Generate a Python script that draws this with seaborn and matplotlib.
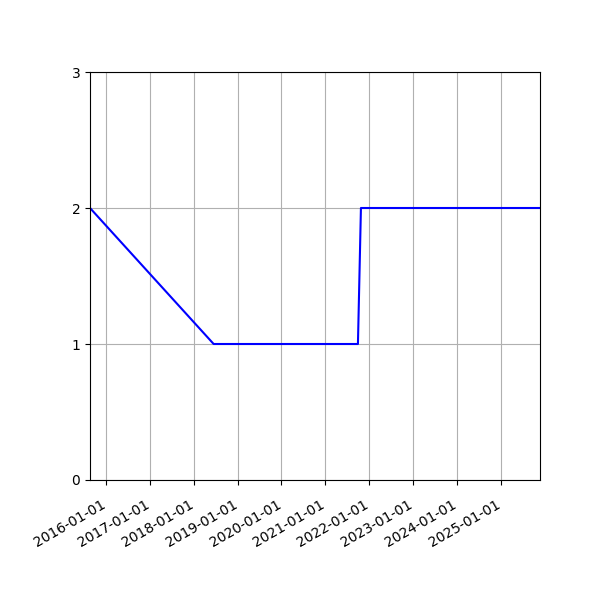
import pandas as pd
import matplotlib
matplotlib.use("Agg")
import matplotlib.pyplot as plt
import matplotlib.dates as mdates
import matplotlib.transforms as mtransforms
import seaborn as sns

# data
dates = ["2015-08-19", "2018-06-15", "2021-09-30", "2021-10-25", "2025-11-26"]
values = [2, 1, 1, 2, 2]

df = pd.DataFrame({"date": pd.to_datetime(dates), "value": values})

fig, ax = plt.subplots(figsize=(6, 6), dpi=100)
sns.lineplot(data=df, x="date", y="value", color="blue", ax=ax)

ax.set_xlim(df["date"].min(), df["date"].max())
ax.set_ylim(0, 3)
ax.set_yticks([0, 1, 2, 3])
ax.xaxis.set_major_locator(mdates.YearLocator())
ax.xaxis.set_major_formatter(mdates.DateFormatter("%Y-%m-%d"))
ax.set_xlabel("")
ax.set_ylabel("")
ax.grid(True)

fig.autofmt_xdate()
fig.subplots_adjust(left=0.15, right=0.9, top=0.88, bottom=0.2)

# the reference has its date labels sitting a little lower / to the right
fig.canvas.draw()
shift = mtransforms.ScaledTranslation(0.02, -0.08, fig.dpi_scale_trans)
for tick in ax.xaxis.get_major_ticks():
    tick.label1.set_transform(tick.label1.get_transform() + shift)

fig.savefig("out.png")
